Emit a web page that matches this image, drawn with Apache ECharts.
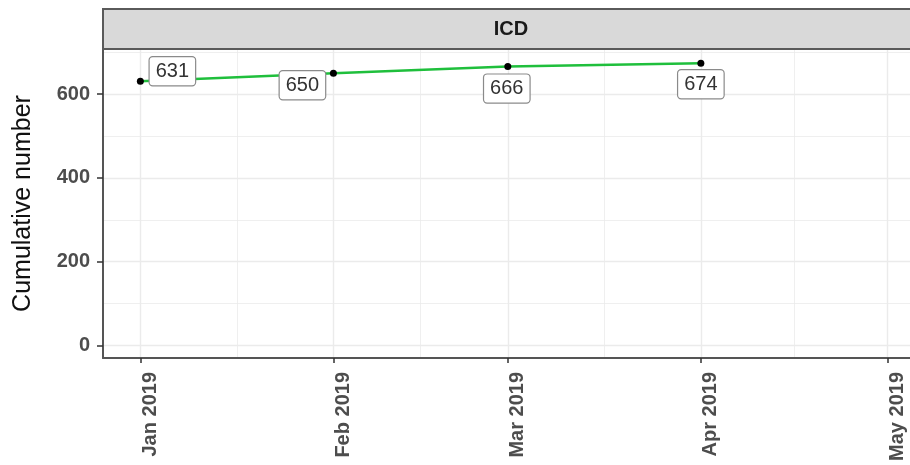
<!DOCTYPE html>
<html>
<head>
<meta charset="utf-8">
<script src="https://cdn.jsdelivr.net/npm/echarts@6/dist/echarts.min.js"></script>
<style>
  html, body { margin: 0; padding: 0; background: #fff; }
  #chart { width: 910px; height: 465px; }
</style>
</head>
<body>
<div id="chart"></div>
<script>
// --- data ---
const dates = ["2019-01-01", "2019-02-01", "2019-03-01", "2019-04-01"];
const cumulative = [631, 650, 666, 674];
const panelTitle = "ICD";

// axis breaks (ggplot style: major + minor)
const monthBreaks = ["2019-01-01", "2019-02-01", "2019-03-01", "2019-04-01", "2019-05-01"];
const midMonthBreaks = ["2019-01-16 12:00", "2019-02-15", "2019-03-16 12:00", "2019-04-16"];
const yBreaks = [0, 200, 400, 600];
const yMinorBreaks = [100, 300, 500, 700];

// where each repelled label sits relative to its point (px)
const labelOffsets = [[32, -10], [-31, 12], [-1, 22], [0, 21]];

const monthNames = ["Jan", "Feb", "Mar", "Apr", "May", "Jun", "Jul", "Aug", "Sep", "Oct", "Nov", "Dec"];
const toTime = s => new Date(s.replace(" ", "T")).getTime();

const FONT = "Liberation Sans, Arial, sans-serif";
const GRID_COL = "#ebebeb";

const chart = echarts.init(document.getElementById("chart"), null, { renderer: "canvas" });

const gridLines = [
  ...monthBreaks.map(d => ({ xAxis: toTime(d), lineStyle: { width: 1.4 } })),
  ...midMonthBreaks.map(d => ({ xAxis: toTime(d), lineStyle: { width: 0.8 } })),
  ...yBreaks.map(v => ({ yAxis: v, lineStyle: { width: 1.4 } })),
  ...yMinorBreaks.map(v => ({ yAxis: v, lineStyle: { width: 0.8 } }))
];

const option = {
  animation: false,
  textStyle: { fontFamily: FONT },
  grid: {
    left: 103, right: 0, top: 49, bottom: 107,
    containLabel: false, outerBoundsMode: "none"
  },
  graphic: [
    {
      type: "rect",
      shape: { x: 103, y: 9, width: 812, height: 40 },
      style: { fill: "#d9d9d9", stroke: "#5a5a5a", lineWidth: 2 },
      z: 10
    },
    {
      type: "text",
      x: 511, y: 29,
      style: {
        text: panelTitle, fontFamily: FONT, fontSize: 20, fontWeight: "bold",
        fill: "#1a1a1a", align: "center", verticalAlign: "middle"
      },
      z: 11
    }
  ],
  xAxis: {
    // timestamps on a plain value axis so the month breaks can be given directly
    type: "value",
    min: toTime("2018-12-26"),
    max: toTime("2019-05-04 14:00"),
    axisLine: { show: true, onZero: false, lineStyle: { color: "#555", width: 2 } },
    axisTick: {
      show: true, length: 5, customValues: monthBreaks.map(toTime),
      lineStyle: { color: "#333", width: 1.5 }
    },
    axisLabel: {
      customValues: monthBreaks.map(toTime),
      rotate: 90,
      margin: 14,
      verticalAlign: "top",
      fontSize: 20,
      fontWeight: "bold",
      color: "#4d4d4d",
      formatter: v => {
        const d = new Date(v);
        return monthNames[d.getMonth()] + " " + d.getFullYear();
      }
    },
    splitLine: { show: false }
  },
  yAxis: {
    type: "value",
    min: -30,
    max: 708,
    name: "Cumulative number",
    nameLocation: "middle",
    nameRotate: 90,
    nameGap: 67,
    nameTextStyle: { fontSize: 25, color: "#111", fontFamily: FONT },
    axisLine: { show: true, onZero: false, lineStyle: { color: "#555", width: 2 } },
    axisTick: {
      show: true, length: 6, customValues: yBreaks,
      lineStyle: { color: "#333", width: 1.5 }
    },
    axisLabel: {
      customValues: yBreaks,
      margin: 13,
      fontSize: 20,
      fontWeight: "bold",
      color: "#4d4d4d"
    },
    splitLine: { show: false }
  },
  series: [
    {
      name: "gridlines",
      type: "line",
      data: [],
      silent: true,
      z: 0,
      markLine: {
        z: 0,
        silent: true,
        symbol: "none",
        label: { show: false },
        lineStyle: { color: GRID_COL, type: "solid" },
        emphasis: { disabled: true },
        data: gridLines
      }
    },
    {
      name: panelTitle,
      type: "line",
      z: 3,
      data: dates.map((d, i) => [toTime(d), cumulative[i]]),
      lineStyle: { color: "#1fbf3c", width: 2.5 },
      symbol: "circle",
      symbolSize: 7,
      itemStyle: { color: "#000" },
      label: {
        show: true,
        position: "inside",
        align: "center",
        verticalAlign: "middle",
        formatter: p => String(p.value[1]),
        fontSize: 20,
        color: "#333",
        backgroundColor: "#fff",
        borderColor: "#8a8a8a",
        borderWidth: 1.2,
        borderRadius: 3,
        padding: [5, 6, 3, 6]
      },
      labelLayout: p => ({
        dx: labelOffsets[p.dataIndex][0],
        dy: labelOffsets[p.dataIndex][1],
        hideOverlap: false
      }),
      emphasis: { disabled: true }
    }
  ]
};

chart.setOption(option);
</script>
</body>
</html>
